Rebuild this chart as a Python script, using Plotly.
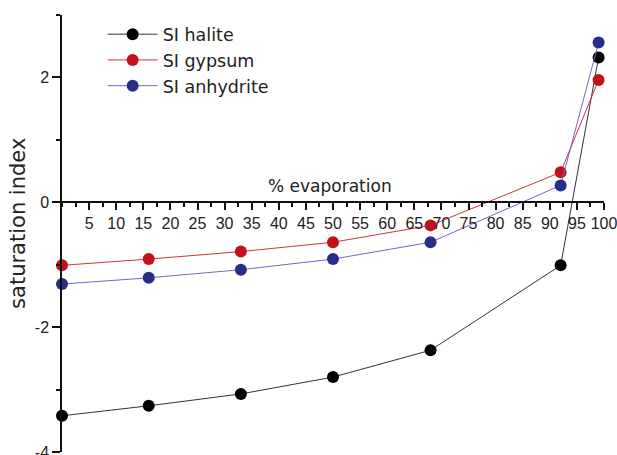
import plotly.graph_objects as go

evap = [0, 16, 33, 50, 68, 92, 99]
si_halite = [-3.42, -3.26, -3.07, -2.80, -2.37, -1.01, 2.32]
si_gypsum = [-1.01, -0.91, -0.79, -0.64, -0.37, 0.48, 1.96]
si_anhydrite = [-1.31, -1.21, -1.08, -0.91, -0.64, 0.27, 2.56]
x_ticks = list(range(5, 101, 5))
y_ticks = [-4, -2, 0, 2]

series = [
    ("SI halite", si_halite, "#000000", "#333333"),
    ("SI gypsum", si_gypsum, "#c1121c", "#d0343a"),
    ("SI anhydrite", si_anhydrite, "#2a2c8a", "#6a6ac8"),
]

fig = go.Figure()
for name, ys, mcol, lcol in series:
    fig.add_trace(go.Scatter(
        x=evap, y=ys, name=name, mode="lines+markers",
        line=dict(color=lcol, width=1),
        marker=dict(color=mcol, size=12),
        cliponaxis=False,
    ))

tick_font = "Liberation Sans, Arial, sans-serif"
text_font = "DejaVu Sans, sans-serif"
fig.update_layout(
    width=617, height=455,
    margin=dict(l=62, r=13, t=15, b=3),
    paper_bgcolor="white", plot_bgcolor="white",
    font=dict(family=tick_font, color="#222222", size=16),
    showlegend=True,
    legend=dict(x=0.075, y=0.997, xanchor="left", yanchor="top",
                font=dict(size=17.5, family=text_font), bgcolor="rgba(0,0,0,0)",
                tracegroupgap=0, itemwidth=50),
    xaxis=dict(
        range=[0, 100], anchor="free", position=4/7, automargin=False,
        showline=True, linecolor="#111111", linewidth=1.5,
        showgrid=False, zeroline=False,
        tickmode="array", tickvals=x_ticks, ticktext=[str(v) for v in x_ticks],
        ticks="outside", ticklen=7, tickwidth=1.5, tickcolor="#111111",
        tickfont=dict(size=16), ticklabeloverflow="allow",
        minor=dict(dtick=2.5, tick0=0, ticks="outside", ticklen=4, tickwidth=1.5, tickcolor="#111111"),
    ),
    yaxis=dict(
        range=[-4, 3], domain=[0, 1], automargin=False,
        showline=True, linecolor="#111111", linewidth=1.5,
        showgrid=False, zeroline=False,
        tickmode="array", tickvals=y_ticks, ticktext=[str(v) for v in y_ticks],
        ticks="outside", ticklen=8, tickwidth=1.5, tickcolor="#111111",
        tickfont=dict(size=16), ticklabeloverflow="allow",
        minor=dict(dtick=1, tick0=0, ticks="outside", ticklen=4, tickwidth=1.5, tickcolor="#111111"),
    ),
    annotations=[
        dict(text="% evaporation", x=49.5, y=0, xref="x", yref="y",
             xanchor="center", yanchor="bottom", yshift=4,
             showarrow=False, font=dict(size=17, family=text_font, color="#222222")),
        dict(text="saturation index", x=0, y=0.522, xref="paper", yref="paper",
             xanchor="center", yanchor="middle", xshift=-44, textangle=-90,
             showarrow=False, font=dict(size=21, family=text_font, color="#222222")),
    ],
)

fig.write_html("out.html", config={"displayModeBar": False},
               post_script="document.body.style.margin='0';document.body.style.overflow='hidden';")
